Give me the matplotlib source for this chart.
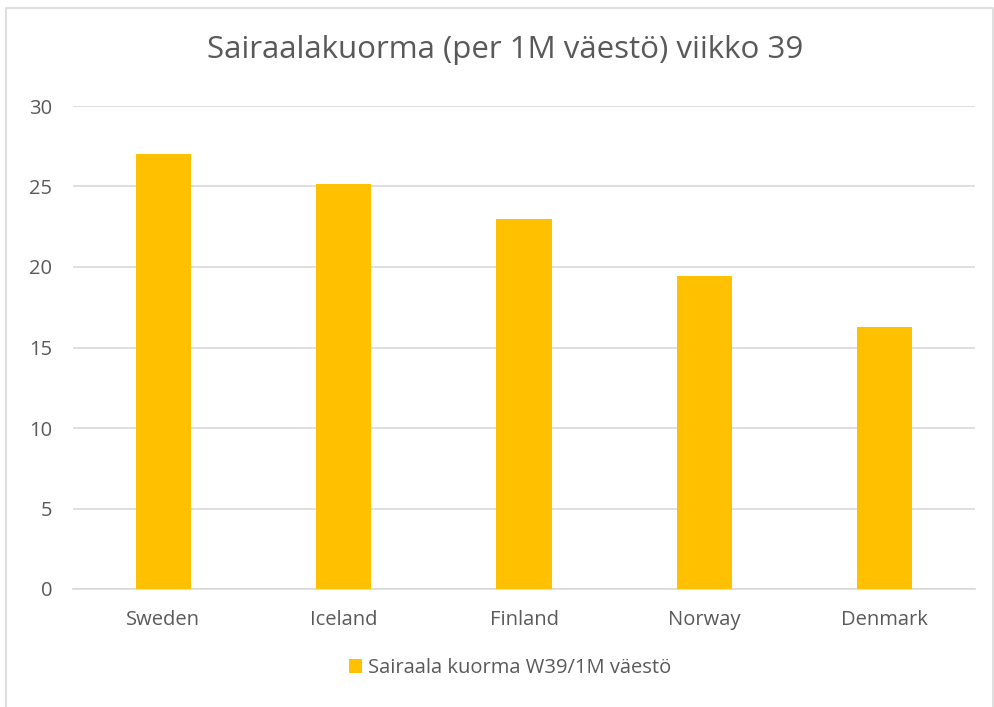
import matplotlib
matplotlib.use("Agg")
import matplotlib.pyplot as plt
from matplotlib.patches import Rectangle

countries = ["Sweden", "Iceland", "Finland", "Norway", "Denmark"]
values = [27.0, 25.15, 23.0, 19.45, 16.3]
series_name = "Sairaala kuorma W39/1M väestö"
title = "Sairaalakuorma (per 1M väestö) viikko 39"
yticks = [0, 5, 10, 15, 20, 25, 30]

plt.rcParams['font.family'] = ['Open Sans', 'DejaVu Sans']
W, H = 995, 707
fig = plt.figure(figsize=(W / 100, H / 100), dpi=100)
fig.patch.set_facecolor("white")

# outer chart border
fig.add_artist(Rectangle((6 / W, -0.01), (W - 8) / W, (H - 7) / H + 0.01 - 1 / H,
                         transform=fig.transFigure, fill=False, edgecolor="#d9d9d9", lw=1.2))

ax = fig.add_axes([73 / W, 1 - 589 / H, (975 - 73) / W, (589 - 106) / H])
bar_color = "#FFC000"
x = range(len(countries))
ax.bar(x, values, width=0.305, color=bar_color, zorder=3, label=series_name)
ax.set_xlim(-0.5, len(countries) - 0.5)
ax.set_ylim(0, 30)
ax.set_yticks(yticks)
ax.set_xticks(list(x))
ax.set_xticklabels(countries)
ax.grid(axis="y", color="#d9d9d9", lw=1.2, zorder=0)
for s in ["top", "right", "left"]:
    ax.spines[s].set_visible(False)
ax.spines["bottom"].set_color("#d9d9d9")
ax.spines["bottom"].set_linewidth(1.2)
ax.tick_params(axis="both", length=0, colors="#595959", labelsize=14.5)
ax.tick_params(axis="x", pad=15)
ax.tick_params(axis="y", pad=15)

fig.text(0.508, 1 - 50 / H, title, ha="center", va="center", fontsize=22.5, color="#595959")

leg = fig.legend(loc="center", bbox_to_anchor=(0.513, 1 - 668 / H), frameon=False,
                 fontsize=14.5, handlelength=0.65, handleheight=0.65, handletextpad=0.3)
for t in leg.get_texts():
    t.set_color("#595959")

fig.savefig("out.png", dpi=100, facecolor="white")
